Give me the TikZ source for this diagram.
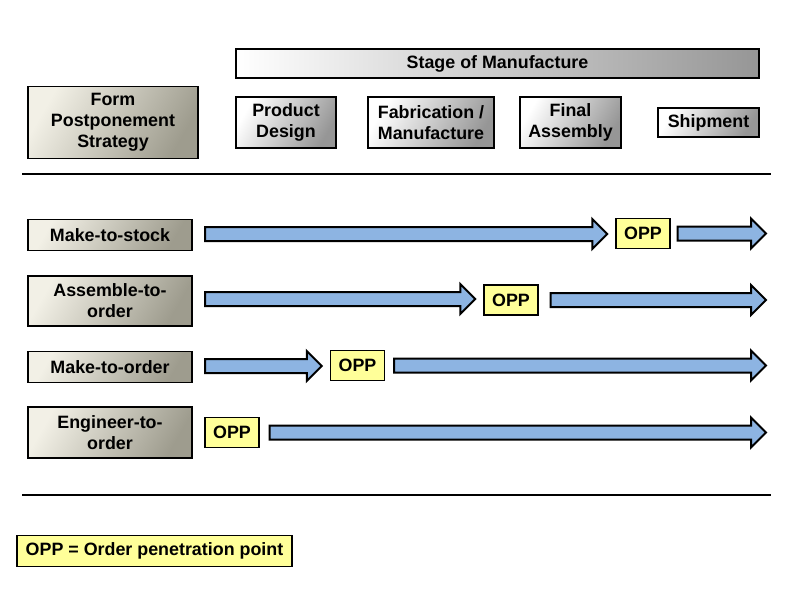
\documentclass[tikz,border=0pt]{standalone}
\usepackage{fontspec}
\setmainfont{Liberation Sans}
\usetikzlibrary{calc}
\definecolor{beigelite}{RGB}{242,240,230}
\definecolor{beigedark}{RGB}{158,156,142}
\definecolor{graydark}{RGB}{150,150,150}
\definecolor{oppyellow}{RGB}{255,255,153}
\definecolor{flowblue}{RGB}{141,180,226}
% block arrow from #1 to tip at #2
\newcommand{\flowarrow}[2]{%
\draw[flowarr] let \p1=(#1), \p2=(#2) in
 (\x1,\y1+5.25pt) -- (\x2-11.25pt,\y1+5.25pt) -- (\x2-11.25pt,\y1+11.25pt) -- (\x2,\y1)
 -- (\x2-11.25pt,\y1-11.25pt) -- (\x2-11.25pt,\y1-5.25pt) -- (\x1,\y1-5.25pt) -- cycle;}

\begin{document}
\begin{tikzpicture}[x=0.75pt,y=-0.75pt,
  txt/.style={font=\bfseries\fontsize{13.4}{15.8}\selectfont,align=center,inner sep=0pt},
  rowbox/.style={txt,draw=black,line width=1.3pt,left color=beigelite,right color=beigedark,shading angle=60,minimum width=123pt},
  stagebox/.style={txt,draw=black,line width=1.3pt,left color=white,right color=graydark,shading angle=60},
  oppbox/.style={txt,draw=black,line width=1.1pt,fill=oppyellow,minimum width=40.5pt,minimum height=22.5pt},
  flowarr/.style={draw=black,line width=1.5pt,fill=flowblue,line join=miter},
  rule/.style={line width=1.6pt}]
\useasboundingbox (0,0) rectangle (800,600);
% header
\node[stagebox,left color=white,right color=graydark,shading angle=90,minimum width=392.25pt,minimum height=21.75pt] (stage) at (497.5,63.5) {Stage of Manufacture};
\node[rowbox,minimum width=127.5pt,minimum height=54pt] (strategy) at (113,122.5) {Form\\Postponement\\Strategy};
\node[stagebox,minimum width=75pt,minimum height=38.25pt] (design) at (286,122.5) {Product\\Design};
\node[stagebox,minimum width=94.5pt,minimum height=38.25pt] (fab) at (431,122.5) {Fabrication /\\Manufacture};
\node[stagebox,minimum width=75.75pt,minimum height=38.25pt] (final) at (570.5,122.5) {Final\\Assembly};
\node[stagebox,minimum width=75.75pt,minimum height=21.75pt] (ship) at (708.5,122.5) {Shipment};
\draw[rule] (22,174) -- (771,174);
% strategies
\node[rowbox,minimum height=23.25pt] (mts) at (110,235) {Make-to-stock};
\node[rowbox,minimum height=37.5pt] (ato) at (110,301) {Assemble-to-\\order};
\node[rowbox,minimum height=23.25pt] (mto) at (110,367) {Make-to-order};
\node[rowbox,minimum height=38.25pt] (eto) at (110,432.5) {Engineer-to-\\order};
% order penetration points
\node[oppbox] (opp1) at (643,233.5) {OPP};
\node[oppbox] (opp2) at (511,300) {OPP};
\node[oppbox] (opp3) at (357.5,365.5) {OPP};
\node[oppbox] (opp4) at (232,432.5) {OPP};
\coordinate (s1) at (205,234); \coordinate (e1) at (766,234);
\coordinate (s2) at (205,299); \coordinate (e2) at (766,299);
\coordinate (s3) at (205,366); \coordinate (e3) at (766,366);
\coordinate (e4) at (766,432);
\flowarrow{s1}{[xshift=-6pt]opp1.west}
\flowarrow{[xshift=5.25pt]opp1.east}{e1}
\flowarrow{s2}{[xshift=-6pt]opp2.west}
\flowarrow{[xshift=9pt]opp2.east}{e2}
\flowarrow{s3}{[xshift=-6pt]opp3.west}
\flowarrow{[xshift=6.75pt]opp3.east}{e3}
\flowarrow{[xshift=7.5pt]opp4.east}{e4}
\draw[rule] (22,495) -- (771,495);
% legend
\node[oppbox,minimum width=206.25pt,minimum height=23.25pt] (legend) at (154.5,551) {OPP = Order penetration point};
\end{tikzpicture}
\end{document}
